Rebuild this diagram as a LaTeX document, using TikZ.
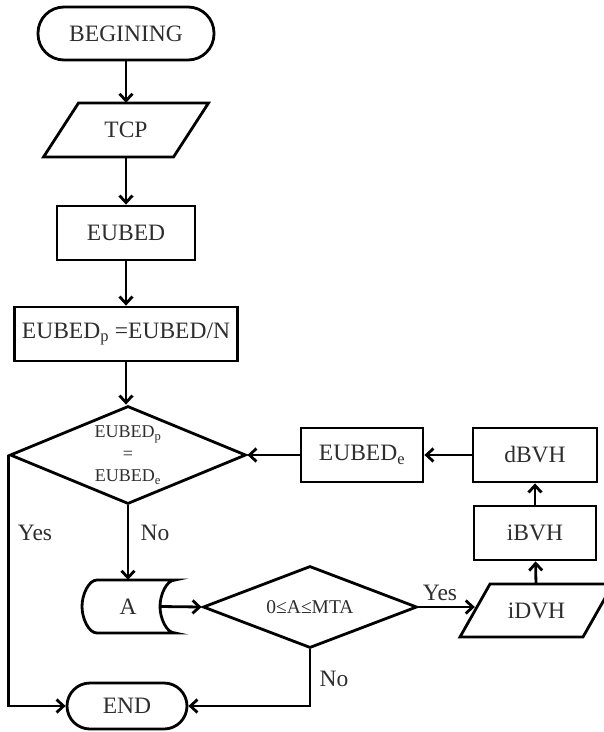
\documentclass[tikz,border=0pt]{standalone}
\usepackage{fontspec}
\setmainfont{Liberation Serif}
\usetikzlibrary{arrows.meta,shapes.geometric}
\definecolor{txt}{HTML}{2E2E2E}
\begin{document}
\begin{tikzpicture}[x=1pt,y=-1pt,
  every node/.style={text=txt, font=\fontsize{23.5}{27}\selectfont, inner sep=0pt},
  ln/.style={line width=2.8pt, draw=black},
  arr/.style={ln, -{Straight Barb[length=7pt,width=13pt]}},
  boxn/.style={ln, minimum width=#1, minimum height=54pt},
  term/.style={ln, rounded corners=26pt, minimum width=#1, minimum height=53pt},
  plain/.style={minimum width=#1, minimum height=54pt},
  dia/.style={shape=diamond, ln, align=center, font=\fontsize{18}{22}\selectfont},
  lab/.style={font=\fontsize{23.5}{27}\selectfont}
]
\fill[white] (0,0) rectangle (604,732);
\useasboundingbox (0,0) rectangle (604,732);

% left column
\node[term=176pt] (beg) at (126,33.5) {BEGINING};
\node[plain=130pt] (tcp) at (126,130) {TCP};
\draw[ln, line join=miter] (78.5,103) -- (208.5,103) -- (173.5,157) -- (43.5,157) -- cycle;
\node[boxn=138pt] (eubed) at (126,233) {EUBED};
\node[boxn=223pt] (eubedp) at (126,334) {EUBED\textsubscript{p} =EUBED/N};
\node[dia, minimum width=236pt, minimum height=98pt, aspect=2.4] (d1) at (128,455)
  {EUBED\textsubscript{p}\\=\\EUBED\textsubscript{e}};

% stored data A
\node[minimum width=93pt, minimum height=53pt] (A) at (128,606.5) {A};
\draw[ln, line join=miter] (97,580) -- (175,580)
  .. controls (166.7,580) and (160,594.5) .. (160,606.5)
  .. controls (160,618.5) and (166.7,633) .. (175,633)
  -- (97,633)
  .. controls (88.7,633) and (82,618.5) .. (82,606.5)
  .. controls (82,594.5) and (88.7,580) .. (97,580) -- cycle;
\coordinate (Aout) at (160,606.5);

\node[dia, minimum width=214pt, minimum height=82pt, aspect=2.6, font=\fontsize{19.5}{22}\selectfont] (d2) at (310,607) {0≤A≤MTA};
\node[term=120pt, minimum height=46pt, rounded corners=23pt] (end) at (127,706) {END};

% right part
\node[boxn=122pt] (eubede) at (362,455) {EUBED\textsubscript{e}};
\node[boxn=124pt] (dbvh) at (535,455) {dBVH};
\node[boxn=122pt] (ibvh) at (535,533) {iBVH};
\node[plain=123pt, minimum height=53pt] (idvh) at (536.5,610.5) {iDVH};
\draw[ln, line join=miter] (490,584) -- (613,584) -- (583,637) -- (460,637) -- cycle;

% connectors
\draw[arr] (beg) -- (tcp);
\draw[arr] (tcp) -- (eubed);
\draw[arr] (eubed) -- (eubedp);
\draw[arr] (eubedp.south) -- (eubedp.south |- d1.north);
\draw[arr] (d1) -- (A);
\draw[arr] (d1.west) |- (end.west);
\draw[arr] (Aout) -- (d2.west);
\draw[arr] (d2.south) |- (end.east);
\draw[arr] (d2.east) -- (d2.east -| idvh.west);
\draw[arr] (idvh) -- (ibvh);
\draw[arr] (ibvh) -- (dbvh);
\draw[arr] (dbvh) -- (eubede);
\draw[arr] (eubede) -- (d1.east);

% labels
\node[lab] (yes1) at (35,533) {Yes};
\node[lab] (no1) at (155,533) {No};
\node[lab] (yes2) at (440,593) {Yes};
\node[lab] (no2) at (334,679) {No};
\end{tikzpicture}
\end{document}
